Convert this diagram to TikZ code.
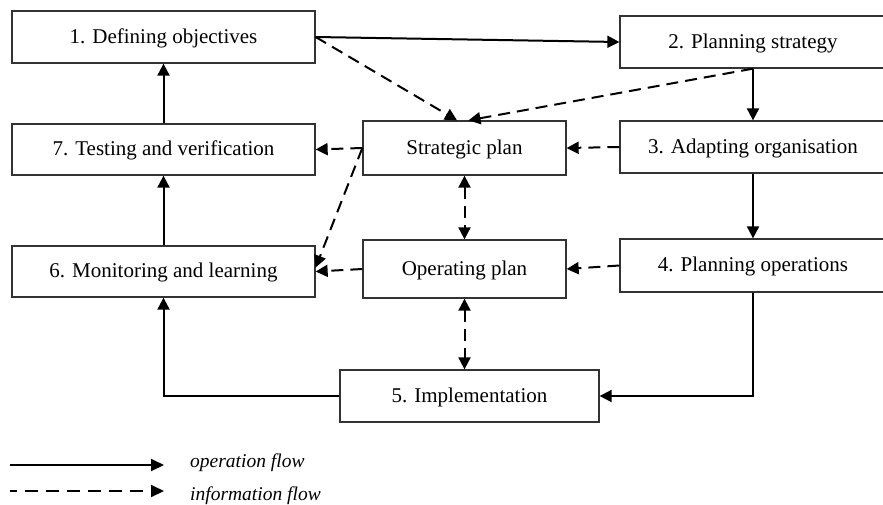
\documentclass[tikz,border=0pt]{standalone}
\usepackage{fontspec}
\setmainfont{Liberation Serif}
\usetikzlibrary{arrows.meta}
\begin{document}
\begin{tikzpicture}[x=1pt,y=-1pt,
  box/.style={draw=black!80, line width=1.3pt, rectangle, inner sep=0pt,
    font=\fontsize{21}{25}\selectfont, text height=15.5pt, text depth=3pt},
  legendtext/.style={inner sep=0pt, font=\fontsize{19.5}{23}\selectfont\itshape},
  opflow/.style={line width=2pt, -{Triangle[length=12pt,width=12pt]}},
  infoflow/.style={opflow, dash pattern=on 12pt off 7pt},
  infoboth/.style={line width=2pt, dash pattern=on 12pt off 7pt,
    {Triangle[length=12pt,width=12pt]}-{Triangle[length=12pt,width=12pt]}},
]
\useasboundingbox (0,0) rectangle (883,504);

% process steps and plans
\node[box, minimum width=303pt, minimum height=52pt] (b1) at (163.5,37)  {1. Defining objectives};
\node[box, minimum width=266pt, minimum height=52pt] (b2) at (753,42)    {2. Planning strategy};
\node[box, minimum width=303pt, minimum height=51pt] (b7) at (163.5,149.5) {7. Testing and verification};
\node[box, minimum width=203pt, minimum height=54pt] (sp) at (464.5,148) {Strategic plan};
\node[box, minimum width=266pt, minimum height=52pt] (b3) at (753,147)   {3. Adapting organisation};
\node[box, minimum width=303pt, minimum height=51pt] (b6) at (163.5,271.5) {6. Monitoring and learning};
\node[box, minimum width=203pt, minimum height=58pt] (op) at (464.5,269) {Operating plan};
\node[box, minimum width=266pt, minimum height=53pt] (b4) at (753,265.5) {4. Planning operations};
\node[box, minimum width=259pt, minimum height=52pt] (b5) at (469.5,396) {5. Implementation};

% operation flow
\draw[opflow] (b1.east) -- (b2.west);
\draw[opflow] (b2.south) -- (b3.north);
\draw[opflow] (b3.south) -- (b4.north);
\draw[opflow] (b4.south) |- (b5.east);
\draw[opflow] (b5.west) -| (b6.south);
\draw[opflow] (b6.north) -- (b7.south);
\draw[opflow] (b7.north) -- (b1.south);

% information flow
\draw[infoflow] (b1.east) -- ([xshift=-7.5pt]sp.north);
\draw[infoflow] (b2.south) -- ([xshift=4pt]sp.north);
\draw[infoflow] (b3.west) -- (sp.east);
\draw[infoflow] (sp.west) -- (b7.east);
\draw[infoflow] (sp.west) -- ([yshift=4pt]b6.east);
\draw[infoflow] (op.west) -- (b6.east);
\draw[infoflow] (b4.west) -- (op.east);
\draw[infoboth] (sp.south) -- (op.north);
\draw[infoboth] (op.south) -- (op.south |- b5.north);

% legend
\coordinate (s0) at (10,465);
\coordinate (s1) at (164,465);
\draw[line width=2pt, -{Triangle[length=13pt,width=12pt]}] (s0) -- (s1);
\node[legendtext, anchor=base west] (t1) at (190,467) {operation flow};
\coordinate (d0) at (10,491);
\coordinate (d1) at (164,491);
\draw[line width=2pt, dash pattern=on 13pt off 8pt, dash phase=6pt,
  -{Triangle[length=13pt,width=12pt]}] (d0) -- (d1);
\node[legendtext, anchor=base west] (t2) at (190,500) {information flow};
\end{tikzpicture}
\end{document}
